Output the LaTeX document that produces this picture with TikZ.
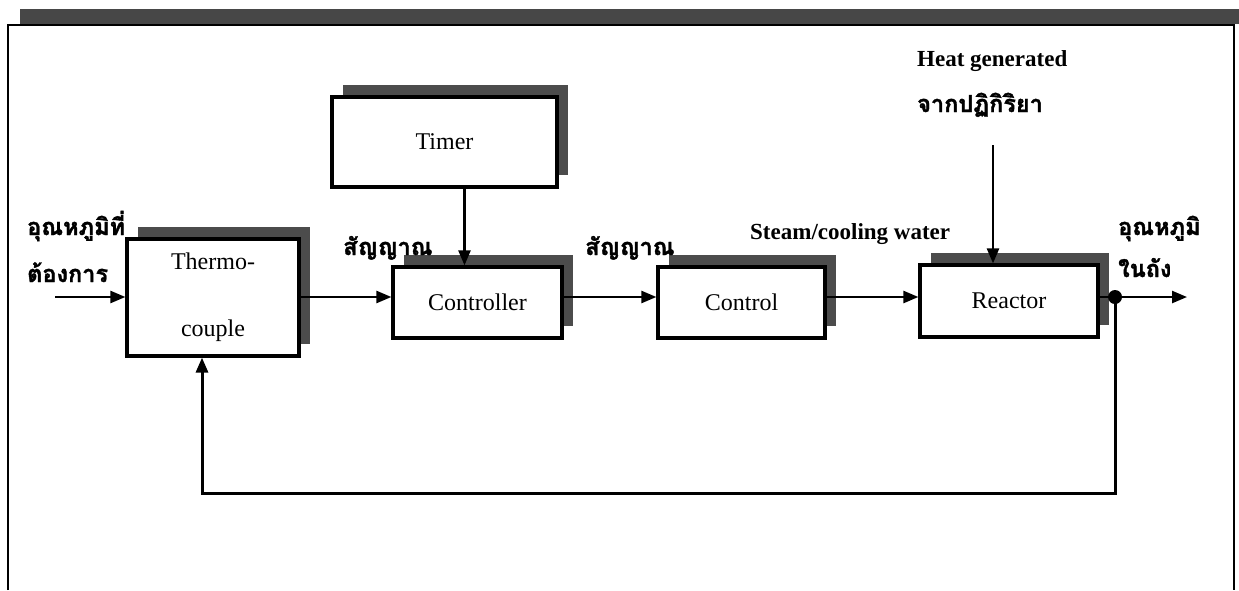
\documentclass[tikz,border=0pt]{standalone}
\usepackage{fontspec}
\setmainfont{Liberation Serif}
\newfontfamily\thai[Script=Thai, BoldFeatures={FakeBold=1.5}]{Loma}
\usetikzlibrary{arrows.meta,shadows}
\begin{document}
\begin{tikzpicture}[x=1pt,y=-1pt,
  box/.style={draw, line width=3.2pt, fill=white, inner sep=0pt, align=center,
    font=\fontsize{24}{30}\selectfont,
    drop shadow={shadow xshift=11pt, shadow yshift=12pt, fill=black!70, opacity=1}},
  conn/.style={line width=2.4pt, -{Triangle[length=15pt,width=12pt]}},
  lbl/.style={inner sep=0pt, font=\bfseries\fontsize{23}{28}\selectfont},
  thl/.style={inner sep=0pt, font=\thai\bfseries\fontsize{23.5}{28}\selectfont},
]
\useasboundingbox (0,0) rectangle (1239,590);
% frame
\fill[black!72] (20,9) rectangle (1239,24);
\draw[line width=2.6pt] (8,590) -- (8,25) -- (1234,25) -- (1234,590);

% boxes
\node[box, minimum width=225pt, minimum height=90pt] (tm) at (444.5,142) {Timer};
\node[box, minimum width=172pt, minimum height=117pt] (th) at (213,297.5) {Thermo-\\[37pt]couple};
\node[box, minimum width=169pt, minimum height=71pt] (ct) at (477.5,302.5) {Controller};
\node[box, minimum width=167pt, minimum height=71pt] (cl) at (741.5,302.5) {Control};
\node[box, minimum width=178pt, minimum height=72pt] (re) at (1009,301) {Reactor};

% points
\coordinate (ly) at (0,297);
\coordinate (in) at (55,297);
\node[circle, fill, inner sep=0pt, minimum size=14pt] (jn) at (1115,297) {};
\coordinate (out) at (1187,297);
\coordinate (fb) at (202,493);
\coordinate (ht) at (993,145);

% connectors
\draw[conn] (in) -- (in -| th.west);
\draw[conn] (th.east |- ly) -- (ct.west |- ly);
\draw[conn] (ct.east |- ly) -- (cl.west |- ly);
\draw[conn] (cl.east |- ly) -- (re.west |- ly);
\draw[line width=2.4pt] (re.east |- ly) -- (jn);
\draw[conn] (jn) -- (out);
\draw[conn, line width=3pt] (jn.center) |- (fb) -- (fb |- th.south);
\draw[conn] ([xshift=20pt]tm.south) -- ([xshift=20pt]tm.south |- ct.north);
\draw[conn] (ht) -- (ht |- re.north);

% labels
\node[thl, anchor=base west] (l1) at (27,235) {อุณหภูมิที่};
\node[thl, anchor=base west] (l2) at (27,282) {ต้องการ};
\node[thl, anchor=base west] (s1) at (343,255) {สัญญาณ};
\node[thl, anchor=base west] (s2) at (585,255) {สัญญาณ};
\node[lbl, anchor=base west] (st) at (750,239) {Steam/cooling water};
\node[lbl, anchor=base west] (hg) at (917,66) {Heat generated};
\node[thl, anchor=base west] (hj) at (917,112) {จากปฏิกิริยา};
\node[thl, anchor=base west] (o1) at (1118,235) {อุณหภูมิ};
\node[thl, anchor=base west] (o2) at (1118,277) {ในถัง};
\end{tikzpicture}
\end{document}
